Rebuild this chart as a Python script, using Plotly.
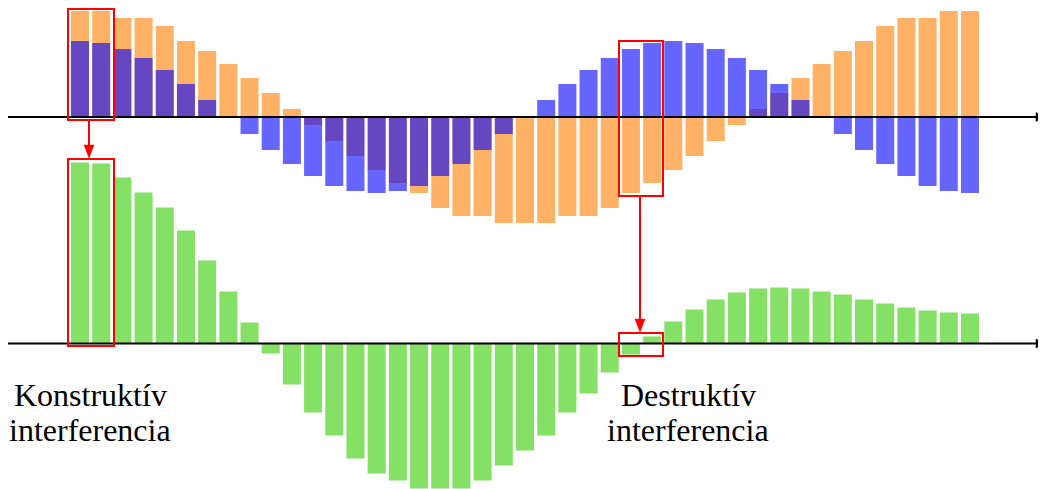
import plotly.graph_objects as go

W, H = 1046, 489
OFF = 8  # page body margin of the browser

# ---- data (arbitrary units, amplitude of orange wave = 106) ----
idx = list(range(43))
orange = [106, 106, 99, 99, 91, 76, 66, 53, 39, 24, 8, -8, -24, -39, -53, -66,
          -76, -91, -99, -99, -106, -106, -106, -99, -99, -91, -76, -66, -53, -39,
          -24, -8, 8, 24, 39, 53, 66, 76, 91, 99, 99, 106, 106]
blue = [76, 74, 68, 59, 47, 33, 17, 0, -17, -33, -47, -59, -69, -74, -76, -74,
        -69, -59, -47, -33, -17, 0, 17, 33, 47, 59, 68, 74, 76, 74,
        68, 59, 47, 33, 17, 0, -17, -33, -47, -59, -69, -74, -76]
green = [181, 180, 166, 151, 136, 113, 83, 52, 21, -10, -41, -69, -92, -115, -130, -137,
         -145, -145, -145, -137, -122, -107, -92, -69, -50, -29, -11, 7, 22, 34,
         44, 51, 55, 56, 55, 52, 49, 44, 40, 36, 33, 31, 30]

labels_left = ["Konstruktív", "interferencia"]
labels_right = ["Destruktív", "interferencia"]

ORANGE = "rgba(255,127,0,0.6)"
BLUE = "rgba(0,0,255,0.6)"
GREEN = "rgba(51,204,0,0.6)"

fig = go.Figure()
fig.add_trace(go.Bar(x=idx, y=orange, marker_color=ORANGE, marker_line_width=0,
                     width=0.85, yaxis="y2", showlegend=False, hoverinfo="skip"))
fig.add_trace(go.Bar(x=idx, y=blue, marker_color=BLUE, marker_line_width=0,
                     width=0.85, yaxis="y2", showlegend=False, hoverinfo="skip"))
fig.add_trace(go.Bar(x=idx, y=green, marker_color=GREEN, marker_line_width=0,
                     width=0.85, yaxis="y", showlegend=False, hoverinfo="skip"))

def px(x):
    return (x - OFF) / W

def py(y):
    return 1 - (y - OFF) / H

PITCH = 21.19
C0 = 80 - OFF  # pixel centre of first bar inside the figure
TOP_AX = 117 - OFF
BOT_AX = 343.5 - OFF

shapes = []
# axis lines
for yy in (117, 343.5):
    shapes.append(dict(type="line", xref="paper", yref="paper",
                       x0=px(7), x1=px(1038), y0=py(yy), y1=py(yy),
                       line=dict(color="black", width=2)))
    shapes.append(dict(type="path", xref="paper", yref="paper",
                       path=f"M {px(1036)} {py(yy-4.5)} L {px(1046)} {py(yy)} L {px(1036)} {py(yy+4.5)} Z",
                       fillcolor="black", line=dict(color="black", width=0.5)))

RED = "#ff0000"
# red boxes
for (x0, x1, y0, y1) in [(68, 114, 9, 120), (68, 114, 159, 346), (619, 663, 41, 196), (619, 663, 333, 356)]:
    shapes.append(dict(type="rect", xref="paper", yref="paper",
                       x0=px(x0), x1=px(x1), y0=py(y0), y1=py(y1),
                       line=dict(color=RED, width=2), fillcolor="rgba(0,0,0,0)"))
# red arrows
for (xc, ys, ytip) in [(89, 120, 158), (640, 196, 332)]:
    shapes.append(dict(type="line", xref="paper", yref="paper",
                       x0=px(xc), x1=px(xc), y0=py(ys), y1=py(ytip - 10),
                       line=dict(color=RED, width=2)))
    shapes.append(dict(type="path", xref="paper", yref="paper",
                       path=f"M {px(xc-5)} {py(ytip-13)} L {px(xc)} {py(ytip)} L {px(xc+5)} {py(ytip-13)} Z",
                       fillcolor=RED, line=dict(color=RED, width=0.5)))

annotations = []
FONT = dict(family="Liberation Serif, Times New Roman, serif", size=32, color="black")
for xc, lines in [(90, labels_left), (688, labels_right)]:
    for k, t in enumerate(lines):
        annotations.append(dict(text=t, x=px(xc), y=py(395 + 35 * k), xref="paper", yref="paper",
                                xanchor="center", yanchor="middle", showarrow=False, font=FONT))

fig.update_layout(
    width=W, height=H, autosize=False,
    margin=dict(l=0, r=0, t=0, b=0, pad=0),
    paper_bgcolor="white", plot_bgcolor="white",
    barmode="overlay",
    xaxis=dict(range=[-C0 / PITCH, (W - C0) / PITCH], visible=False, fixedrange=True),
    yaxis=dict(range=[-(H - BOT_AX), BOT_AX], visible=False, domain=[0, 1]),
    yaxis2=dict(range=[-(H - TOP_AX), TOP_AX], visible=False, overlaying="y"),
    shapes=shapes, annotations=annotations,
)

fig.write_html("out.html")
